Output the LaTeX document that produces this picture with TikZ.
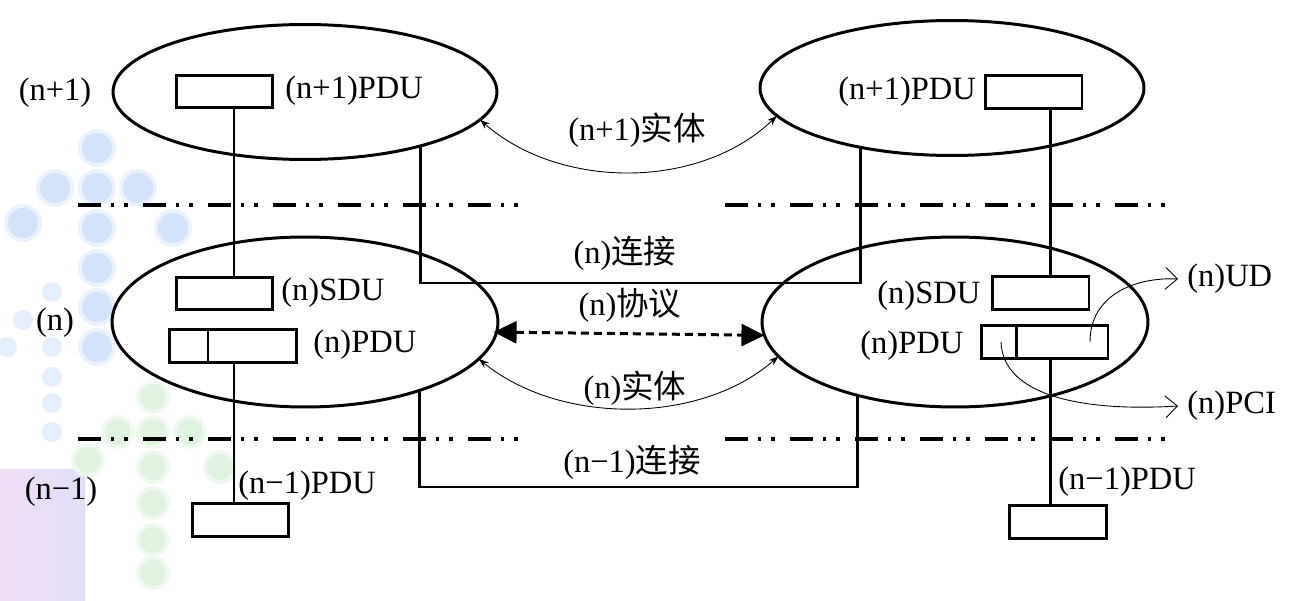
\documentclass[tikz,border=0pt]{standalone}
\usepackage{fontspec}
\setmainfont{Liberation Serif}
\newfontfamily\cjk{Noto Sans CJK SC}
\usetikzlibrary{shapes.geometric,arrows.meta,positioning,calc}

\definecolor{dotblue}{RGB}{210,226,250}
\definecolor{dotgreen}{RGB}{224,242,224}
\definecolor{bgpink}{RGB}{240,222,246}
\definecolor{bglilac}{RGB}{226,222,249}

\begin{document}
\begin{tikzpicture}[x=0.02cm, y=-0.02cm, >=Stealth,
  every node/.style={font=\fontsize{18.5}{22}\selectfont},
  entity/.style={draw, ellipse, line width=1.7pt, minimum width=7.68cm,
    minimum height=2.7cm, inner sep=0pt, outer sep=0pt},
  unitbox/.style={draw, rectangle, line width=1.7pt, minimum width=1.94cm,
    minimum height=0.65cm, inner sep=0pt, outer sep=0pt},
  lbl/.style={anchor=west, inner sep=0pt},
  mid/.style={inner sep=0pt},
  heavy/.style={line width=1.7pt},
  layerline/.style={line width=2pt, dash pattern=on 0.46cm off 0.2cm on 0.07cm off 0.2cm on 0.07cm off 0.3cm},
  peerarrow/.style={{Stealth[length=0.2cm,width=0.14cm]}-{Stealth[length=0.2cm,width=0.14cm]}, line width=0.5pt},
  protoarrow/.style={{Triangle[length=0.46cm,width=0.44cm]}-{Triangle[length=0.46cm,width=0.44cm]}, line width=1.7pt, dash pattern=on 0.16cm off 0.1cm},
  outarrow/.style={-{Straight Barb[length=0.24cm,width=0.44cm]}, line width=0.5pt}]
  \useasboundingbox (0,0) rectangle (1296,601);

  % Background decoration
  \shade[left color=bgpink, right color=bglilac] (0,470) rectangle (85,601);
  \foreach \cx/\cy in {97/148,55/188,97/188,138/188,23/223,97/228,173/228,97/268,97/307,97/347}{
    \fill[dotblue!45] (\cx,\cy) circle (0.38cm);
    \fill[dotblue] (\cx,\cy) circle (0.3cm);}
  \foreach \cx/\cy in {52/292,23/320,52/347,7/347,52/377,52/403,52/432}
    \fill[dotblue!60] (\cx,\cy) circle (0.2cm);
  \foreach \cx/\cy in {153/397,118/432,153/432,190/432,88/460,153/467,220/467,153/503,153/540,153/573}{
    \fill[dotgreen!50] (\cx,\cy) circle (0.34cm);
    \fill[dotgreen] (\cx,\cy) circle (0.26cm);}

  % Layer boundaries
  \draw[layerline] (78,205) -- (520,205);
  \draw[layerline] (725,205) -- (1165,205);
  \draw[layerline] (78,439) -- (520,439);
  \draw[layerline] (725,439) -- (1167,439);

  % Layer names
  \node[mid] (layUp) at (55,93) {(n+1)};
  \node[mid] (layN) at (55,323) {(n)};
  \node[mid] (layDn) at (61,492) {(n−1)};

  % Entities
  \node[entity] (entTL) at (305,92) {};
  \node[entity] (entTR) at (952,88) {};
  \node[entity, minimum width=7.72cm, minimum height=3.4cm] (entL) at (305,322) {};
  \node[entity, minimum width=7.72cm, minimum height=3.4cm] (entR) at (955,322) {};

  % Data units, left side
  \node[unitbox] (pduTL) at (224.5,91.5) {};
  \node[unitbox] (sduL) at (224.5,293.5) {};
  \node[unitbox, minimum width=2.56cm] (pduL) at (233,346) {};
  \draw[heavy] ([xshift=0.78cm]pduL.north west) -- ([xshift=0.78cm]pduL.south west);
  \node[unitbox] (lowL) at (240.5,520) {};

  % Data units, right side
  \node[unitbox] (pduTR) at (1033.5,92) {};
  \node[unitbox] (sduR) at (1040.5,293) {};
  \node[unitbox, minimum width=2.54cm] (pduR) at (1044.5,342) {};
  \draw[heavy] ([xshift=0.7cm]pduR.north west) -- ([xshift=0.7cm]pduR.south west);
  \node[unitbox] (lowR) at (1058,522) {};

  % Unit labels
  \node[lbl] (pduTLlbl) at (285,91) {(n+1)PDU};
  \node[lbl] (pduTRlbl) at (838,92) {(n+1)PDU};
  \node[lbl] (sduLlbl) at (281,293) {(n)SDU};
  \node[lbl] (pduLlbl) at (313,345) {(n)PDU};
  \node[lbl] (sduRlbl) at (877,296) {(n)SDU};
  \node[lbl] (pduRlbl) at (860,346) {(n)PDU};
  \node[lbl] (lowLlbl) at (238,486) {(n−1)PDU};
  \node[lbl] (lowRlbl) at (1058,482) {(n−1)PDU};
  \node[lbl] (udLbl) at (1187,279) {(n)UD};
  \node[lbl] (pciLbl) at (1187,406) {(n)PCI};

  % Vertical paths
  \coordinate (axisL) at (234,0);
  \coordinate (axisR) at (1050,0);
  \draw[heavy] (pduTL.south -| axisL) -- (sduL.north -| axisL);
  \draw[heavy] (pduL.south -| axisL) -- (lowL.north -| axisL);
  \draw[heavy] (pduTR.south -| axisR) -- (sduR.north -| axisR);
  \draw[heavy] (pduR.south -| axisR) -- (lowR.north -| axisR);

  % Connections
  \coordinate (linkN) at (0,283);
  \coordinate (linkDn) at (0,487);
  \draw[heavy] (entTL.-25.2) |- (entTR.-147.9 |- linkN) -- (entTR.-147.9);
  \draw[heavy] (entL.-31) |- (entR.-143.6 |- linkDn) -- (entR.-143.6);

  % Peer relations
  \draw[peerarrow] (entTL.-9) .. controls (560,190) and (700,190) .. (entTR.-171.5);
  \draw[protoarrow] ([xshift=-0.06cm]entL.-3.3) -- (entR.-176.7);
  \draw[peerarrow] (entL.-12.3) .. controls (560,425) and (700,425) .. (entR.-169.5);

  % Relation labels
  \node[mid] (entUpLbl) at (637,130) {(n+1){\cjk 实体}};
  \node[mid] (linkNLbl) at (625,253) {(n){\cjk 连接}};
  \node[mid] (protoLbl) at (630,305) {(n){\cjk 协议}};
  \node[mid] (entNLbl) at (635,388) {(n){\cjk 实体}};
  \node[mid] (linkDnLbl) at (632,462) {(n−1){\cjk 连接}};

  % UD and PCI pointers
  \coordinate (udSrc) at (1090,342);
  \coordinate (pciSrc) at (1001,342);
  \draw[outarrow] (udSrc) .. controls (1090,295) and (1135,277) .. ([xshift=-0.18cm]udLbl.west);
  \draw[outarrow] (pciSrc) .. controls (1003,395) and (1080,412) .. ([xshift=-0.18cm]pciLbl.west);
\end{tikzpicture}
\end{document}
